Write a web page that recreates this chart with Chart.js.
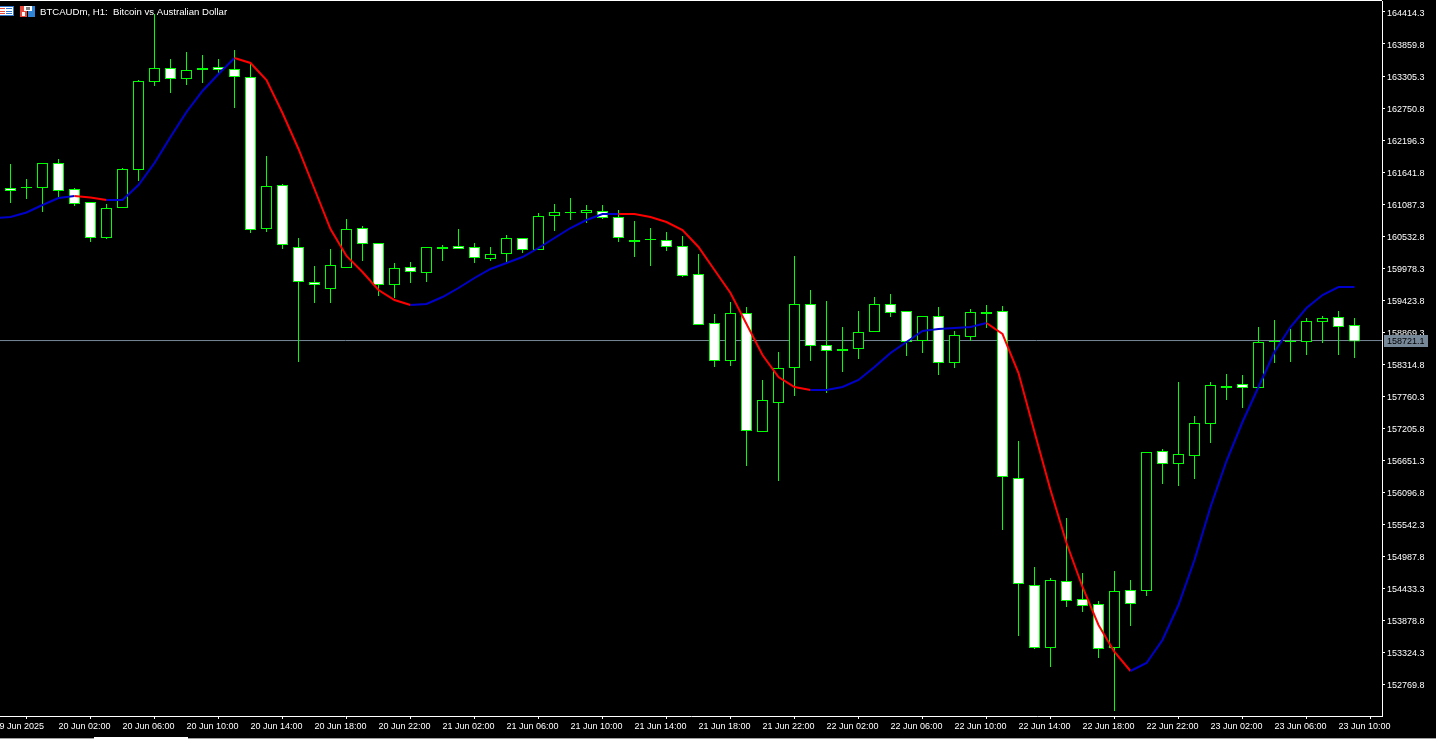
<!DOCTYPE html>
<html>
<head>
<meta charset="utf-8">
<title>BTCAUDm, H1</title>
<script src="https://cdn.jsdelivr.net/npm/chart.js@4/dist/chart.umd.min.js"></script>
<style>
html,body{margin:0;padding:0;background:#000;overflow:hidden}
canvas{display:block}
</style>
</head>
<body>
<canvas id="c" width="1436" height="739" style="width:1436px;height:739px"></canvas>
<script>
const titleText = "BTCAUDm, H1:  Bitcoin vs Australian Dollar";
const lastPrice = 158721.1;

const opens = [161364.5,161382,161382,161797.7,161347.2,161121.9,160515.5,161035.3,161693.8,163218.6,
163443.9,163270.6,163443.9,163461.2,163426.6,163287.9,160671.4,161416.5,160342.2,159735.7,
159631.7,159995.6,160671.4,160411.5,159701,159995.6,159909,160342.2,160359.5,160342.2,
160151.6,160238.2,160498.1,160307.5,160896.7,160948.7,160948.7,160966,160862,160463.5,
160480.8,160463.5,160359.5,159874.3,159025.3,158384.1,159198.5,157153.8,157656.3,158262.8,
159354.5,158644,158574.7,158592,158886.6,159354.5,159233.2,158730.7,159146.6,158349.5,
158800,159215.9,159233.2,156339.4,154485.2,153411,154554.7,154242.7,154156.1,153411,
154398.7,154398.7,156807.3,156599.3,156738,157292.5,157933.6,157968.2,157916.3,158713.4,
158713.4,158713.4,159059.9,159129.2,158990.6];

const closes = [161329.9,161382,161797.7,161329.9,161104.6,160515.5,161018,161693.8,163218.6,163443.9,
163270.6,163409.2,163426.6,163426.6,163305.3,160654.1,161399.2,160394.2,159753.1,159701,
160030.3,160654.1,160411.5,159701,159978.3,159926.3,160342.2,160324.9,160324.9,160168.9,
160220.9,160498.1,160307.5,160879.4,160948.7,160948.7,160983.3,160862,160515.5,160446.2,
160480.8,160359.5,159857,159008,158384.1,159198.5,157171.2,157691,158245.5,159354.5,
158644,158557.4,158557.4,158869.3,159354.5,159215.9,158713.4,159146.6,158349.5,158817.3,
159215.9,159198.5,156374,154519.8,153411,154572,154225.4,154138.8,153393.7,154381.3,
154173.4,156790,156599.3,156755.3,157292.5,157950.9,157916.3,157916.3,158696,158713.4,
158713.4,159059.9,159111.9,158973.2,158721.1];

const highs = [161780.4,161520.8,161797.7,161867,161364.5,161121.9,161087.3,161711.1,163235.9,164379.6,
163599.8,163721.1,163669.2,163599.8,163755.8,163513.2,161919,161433.8,160498.1,160013,
160307.5,160827.4,160706,160411.5,160065,160082.3,160342.2,160376.8,160654.1,160411.5,
160342.2,160550,160498.1,160931.3,161087.3,161191.3,161069.9,161069.9,160983.3,160792.7,
160671.4,160602.1,160532.8,160220.9,159181.2,159389.1,159302.5,158037.6,158522.7,160186.2,
159597.1,159406.5,158955.9,159233.2,159475.8,159527.8,159233.2,159146.6,159302.5,158886.6,
159267.8,159337.2,159319.8,156980.4,154797.2,154606.6,155646.3,154693.3,154208.1,154727.9,
154572,156790,156842,158002.9,157413.8,158002.9,158141.5,158124.2,158955.9,159077.2,
158921.3,159111.9,159146.6,159233.2,159111.9];

const lows = [161104.6,161173.9,160948.7,161208.6,161052.6,160428.8,160480.8,161035.3,161485.8,163132,
163010.7,163149.3,163184,163322.6,162750.8,160584.8,160602.1,160307.5,158349.5,159371.8,
159371.8,159995.6,160099.6,159493.1,159458.5,159718.4,159735.7,160099.6,160324.9,160065,
160099.6,160082.3,160238.2,160307.5,160619.4,160810,160758,160827.4,160428.8,160168.9,
160013,160272.9,159822.3,159008,158262.8,158280.1,156547.2,157136.5,156287.4,157760.3,
158366.8,157812.3,158176.2,158401.4,158886.6,159129.2,158453.4,158505.4,158124.2,158245.5,
158713.4,158938.6,155438.4,153601.6,153376.3,153064.4,154104.1,154017.5,153220.4,152302,
153774.9,154295,156235.4,156200.8,156322.1,156945.9,157691,157552.4,157881.6,158332.2,
158349.5,158470.8,158678.7,158470.8,158418.8];

// Trend line: first value belongs to the bar just left of the visible window
const trendValues = [160844.7,160862,160940,161069.9,161191.3,161226,161200,161156.6,161156.6,161416.5,161797.7,
162248.3,162681.5,163045.4,163340,163617.2,163530.6,163235.9,162664.1,162040.3,161347.2,
160654.1,160186.2,159909,159597.1,159423.8,159337.2,159354.5,159475.8,159631.7,159805,
159961,160065,160168.9,160324.9,160498.1,160671.4,160810,160914,160914,160914,
160862,160775.4,160636.8,160342.2,159943.6,159545,159008,158470.8,158089.5,157916.3,
157864.3,157864.3,157916.3,158037.6,158262.8,158505.4,158696,158886.6,158921.3,158938.6,
158955.9,159025.3,158834.6,158158.9,157136.5,156131.5,155213.1,154450.7,153792.2,153324.3,
152995,153133.7,153532.3,154138.8,154918.5,155836.9,156634,157309.8,157916.3,158522.7,
158955.9,159285.2,159510.4,159649,159649];
// Bar index ranges over which the trend line is falling (drawn red)
const fallingRanges = [[4,6],[14,25],[38,50],[61,70]];

const timeLabels = ["19 Jun 2025","20 Jun 02:00","20 Jun 06:00","20 Jun 10:00","20 Jun 14:00","20 Jun 18:00","20 Jun 22:00",
"21 Jun 02:00","21 Jun 06:00","21 Jun 10:00","21 Jun 14:00","21 Jun 18:00","21 Jun 22:00",
"22 Jun 02:00","22 Jun 06:00","22 Jun 10:00","22 Jun 14:00","22 Jun 18:00","22 Jun 22:00",
"23 Jun 02:00","23 Jun 06:00","23 Jun 10:00"];
const timeLabelBars = [-1,3,7,11,15,19,23,27,31,35,39,43,47,51,55,59,63,67,71,75,79,83];
const priceTicks = [164414.3,163859.8,163305.3,162750.8,162196.3,161641.8,161087.3,160532.8,159978.3,159423.8,158869.3,
158314.8,157760.3,157205.8,156651.3,156096.8,155542.3,154987.8,154433.3,153878.8,153324.3,152769.8];

const GREEN = '#00FF00', RED = '#FF0000', BLUE = '#0000CD', SLATE = '#778899';
const FONT = 'Liberation Sans';

const xMin = -10.5/16, xMax = (1382-10.5)/16;
const yMax = 164604.9, yMin = 152215.4;
const pricePerPixel = (yMax - yMin) / 715;

const wicks = highs.map((h,i)=>({x:i,y:[lows[i],h]}));
// Bodies cover the last pixel row too, as in the terminal's inclusive rectangles
const bodies = opens.map((o,i)=>({x:i,y:[Math.min(o,closes[i])-pricePerPixel,Math.max(o,closes[i])]}));
const trend = trendValues.map((v,i)=>({x:i-1,y:v}));

const noPad = s => { s.paddingLeft = 0; s.paddingRight = 0; s.paddingTop = 0; s.paddingBottom = 0; };

const frame = {
  id:'frame',
  beforeDraw(chart){
    const c = chart.ctx;
    c.save(); c.fillStyle='#000'; c.fillRect(0,0,1436,739); c.restore();
  },
  afterDraw(chart){
    const c = chart.ctx, y = chart.scales.y;
    c.save();
    // top border
    c.fillStyle='#FFFFFF'; c.fillRect(0,0,1382,1);
    // window strip at the bottom
    c.fillStyle='#A0A0A0'; c.fillRect(0,738,1436,1);
    c.fillStyle='#FFFFFF'; c.fillRect(94,737,94,2);
    // last price box
    const py = y.getPixelForValue(lastPrice);
    c.fillStyle=SLATE; c.fillRect(1384,Math.round(py)-6,44,12);
    c.fillStyle='#000'; c.font='9px "'+FONT+'"'; c.textBaseline='middle'; c.textAlign='left';
    c.fillText(lastPrice.toFixed(1),1387,py+1);
    // header icons
    c.fillStyle='#2F74C8'; c.fillRect(0,6,14,10);
    c.fillStyle='#FFFFFF'; c.fillRect(0,7,13,8);
    c.fillStyle='#E8483C'; c.fillRect(0,8,5,1); c.fillRect(0,11,5,1); c.fillRect(0,13,5,1);
    c.fillStyle='#2F74C8'; c.fillRect(6,8,6,1); c.fillRect(6,11,6,1); c.fillRect(6,13,6,1);
    c.fillStyle='#E8483C'; c.fillRect(20,6,7,11);
    c.fillStyle='#2F84D8'; c.fillRect(28,6,7,11);
    c.fillStyle='#FFFFFF'; c.fillRect(24,6,8,5); c.fillRect(22,12,3,4);
    c.fillStyle='#808080'; c.fillRect(26,7,4,3);
    // title
    c.fillStyle='#FFFFFF'; c.textBaseline='middle';
    c.font='9.6px "'+FONT+'"';
    c.fillText(titleText,40,12);
    c.restore();
  }
};

new Chart(document.getElementById('c'),{
  type:'bar',
  plugins:[frame],
  data:{datasets:[
    {type:'line',label:'Last price',data:[{x:xMin,y:lastPrice},{x:xMax,y:lastPrice}],borderColor:SLATE,borderWidth:1,pointRadius:0,order:5},
    {type:'bar',label:'High-Low',data:wicks,backgroundColor:GREEN,borderWidth:0,barThickness:1,grouped:false,inflateAmount:0,order:4},
    {type:'bar',label:'Open-Close',data:bodies,grouped:false,barThickness:11,inflateAmount:0,borderSkipped:false,borderWidth:1,borderColor:GREEN,
      backgroundColor:ctx=>closes[ctx.dataIndex]<opens[ctx.dataIndex]?'#FFFFFF':'#000000',order:3},
    {type:'line',label:'Trend',data:trend,borderWidth:2,borderColor:BLUE,pointRadius:0,tension:0,order:1,
      segment:{borderColor:ctx=>{
        const bar = ctx.p0.parsed.x;
        return fallingRanges.some(r=>bar>=r[0]&&bar<r[1])?RED:BLUE;
      }}}
  ]},
  options:{
    responsive:false,animation:false,events:[],
    layout:{padding:{top:1,left:0,right:0,bottom:0}},
    plugins:{legend:{display:false},title:{display:false},tooltip:{enabled:false}},
    scales:{
      x:{type:'linear',position:'bottom',min:xMin,max:xMax,offset:false,
        afterBuildTicks(s){s.ticks=timeLabelBars.map(v=>({value:v}));},
        afterFit(s){s.height=23;noPad(s);},
        grid:{drawOnChartArea:false,drawTicks:true,tickLength:3,color:'#FFFFFF'},
        border:{color:'#FFFFFF',width:1},
        ticks:{autoSkip:false,maxRotation:0,minRotation:0,align:'start',padding:2,color:'#FFFFFF',
          font:{family:FONT,size:9},
          callback(v){const k=timeLabelBars.indexOf(v);return k>=0?timeLabels[k]:'';}}
      },
      y:{type:'linear',position:'right',min:yMin,max:yMax,
        afterBuildTicks(s){s.ticks=priceTicks.map(v=>({value:v}));},
        afterFit(s){s.width=54;noPad(s);},
        grid:{drawOnChartArea:false,drawTicks:true,tickLength:3,color:'#FFFFFF'},
        border:{color:'#FFFFFF',width:1},
        ticks:{autoSkip:false,padding:2,labelOffset:1.5,color:'#FFFFFF',font:{family:FONT,size:9},
          callback(v){return v.toFixed(1);}}
      }
    }
  }
});
</script>
</body>
</html>
